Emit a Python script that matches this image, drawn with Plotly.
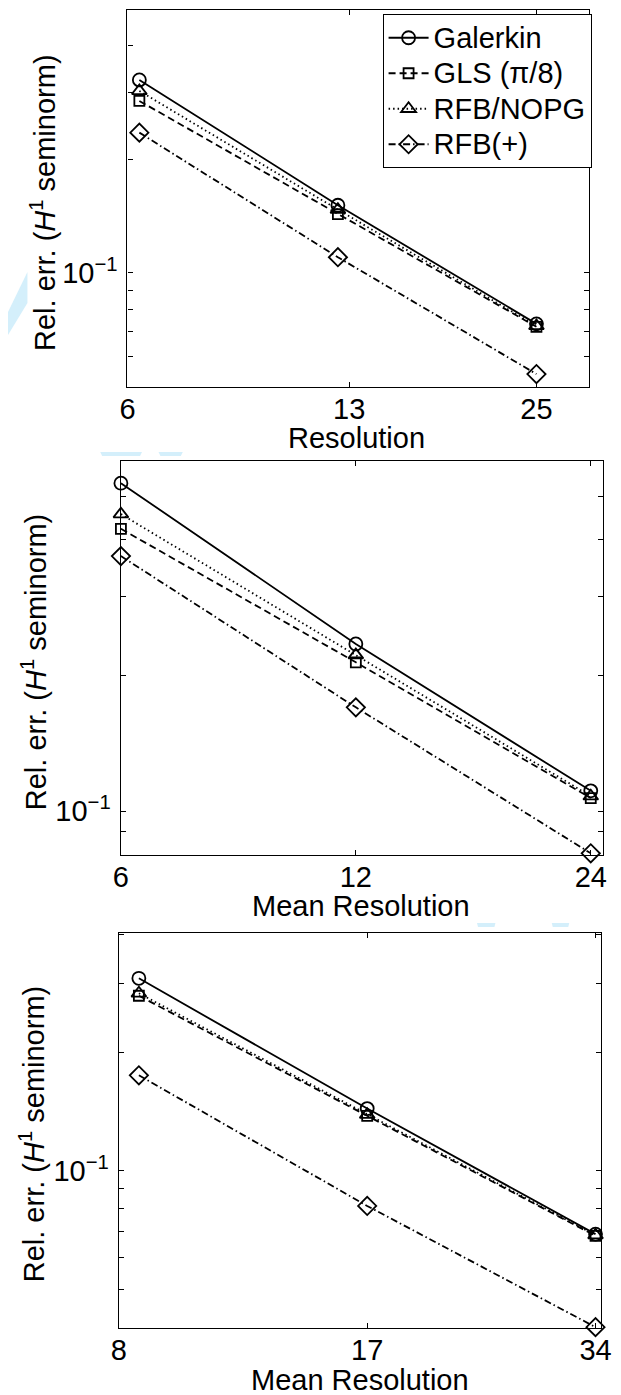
import math
import plotly.graph_objects as go

W, H = 621, 1395

# ---------------- data ----------------
series_names = ["Galerkin", "GLS (\u03c0/8)", "RFB/NOPG", "RFB(+)"]

top_x = [6.25, 12.5, 25]
top_galerkin = [0.324, 0.151, 0.0733]
top_gls = [0.285, 0.143, 0.0720]
top_nopg = [0.303, 0.147, 0.0724]
top_rfbp = [0.235, 0.110, 0.0540]
top_xticks = [6, 13, 25]

mid_x = [6, 12, 24]
mid_galerkin = [0.534, 0.235, 0.111]
mid_gls = [0.423, 0.214, 0.107]
mid_nopg = [0.456, 0.222, 0.108]
mid_rfbp = [0.368, 0.170, 0.0807]
mid_xticks = [6, 12, 24]

bot_x = [8.5, 17, 34]
bot_galerkin = [0.309, 0.144, 0.0690]
bot_gls = [0.279, 0.138, 0.0683]
bot_nopg = [0.283, 0.139, 0.0686]
bot_rfbp = [0.175, 0.0814, 0.0400]
bot_xticks = [8, 17, 34]

y_major = [0.1]
y_major_text = ["10<sup>\u22121</sup>"]
y_minor = [0.04, 0.05, 0.06, 0.07, 0.08, 0.09, 0.2, 0.3, 0.4, 0.5, 0.6]

# ---------------- layout helpers (pixel boxes) ----------------
def px(xp):
    return xp / W

def py(yp):
    return 1 - yp / H

panels = [
    # (x data, series, xticks, xrange, yrange, box(l, r, t, b), xlabel, xlabel pos, ylabel pos)
    (top_x, [top_galerkin, top_gls, top_nopg, top_rfbp], top_xticks, (5.995, 30), (0.0499, 0.496),
     (123, 598, 10, 387), "Resolution", (359, 438), (36, 202)),
    (mid_x, [mid_galerkin, mid_gls, mid_nopg, mid_rfbp], mid_xticks, (5.995, 24.9), (0.0800, 0.598),
     (116, 613, 461, 855), "Mean Resolution", (364, 906), (27, 662)),
    (bot_x, [bot_galerkin, bot_gls, bot_nopg, bot_rfbp], bot_xticks, (7.995, 34.6), (0.0398, 0.403),
     (114, 611, 933, 1328), "Mean Resolution", (362, 1380), (25, 1134)),
]

styles = [
    dict(dash="solid", symbol="circle-open", size=13),
    dict(dash="7px,4px", symbol="square-open", size=10),
    dict(dash="1.5px,3px", symbol="triangle-up-open", size=13),
    dict(dash="7px,3px,1.5px,3px", symbol="diamond-open", size=14),
]

FONT = "Liberation Sans, Arial, Helvetica, sans-serif"
FS = 29

fig = go.Figure()
annotations = []

for i, (xs, ser, xt, xr, yr, box, xlabel, xlpos, ylpos) in enumerate(panels):
    sfx = "" if i == 0 else str(i + 1)
    for name, vals, st in zip(series_names, ser, styles):
        fig.add_trace(go.Scatter(
            x=xs, y=vals, name=f'<span style="font-size:29px">{name}</span>',
            mode="lines+markers",
            line=dict(color="black", width=1.8, dash=st["dash"]),
            marker=dict(symbol=st["symbol"], size=st["size"], color="black",
                        line=dict(color="black", width=1.8)),
            xaxis="x" + sfx, yaxis="y" + sfx,
            showlegend=(i == 0), cliponaxis=False,
        ))
    l, r, t, b = box
    fig.update_layout(**{
        "xaxis" + sfx: dict(
            type="log", range=[math.log10(xr[0]), math.log10(xr[1])],
            domain=[px(l), px(r)], anchor="y" + sfx,
            tickmode="array", tickvals=xt, ticktext=[str(v) for v in xt],
            ticks="inside", ticklen=5, tickwidth=1, tickcolor="black",
            showline=True, linecolor="black", linewidth=1.2, mirror="ticks",
            showgrid=False, zeroline=False, ticklabelstandoff=-4,
            tickfont=dict(size=FS, color="black", family=FONT),
        ),
        "yaxis" + sfx: dict(
            type="log", range=[math.log10(yr[0]), math.log10(yr[1])],
            domain=[py(b), py(t)], anchor="x" + sfx,
            tickmode="array", tickvals=y_major, ticktext=y_major_text,
            ticks="inside", ticklen=5, tickwidth=1, tickcolor="black",
            minor=dict(tickmode="array", tickvals=y_minor, ticks="inside",
                       ticklen=5, tickwidth=1, tickcolor="black", showgrid=False),
            showline=True, linecolor="black", linewidth=1.2, mirror="ticks",
            showgrid=False, zeroline=False, ticklabelstandoff=3,
            tickfont=dict(size=FS, color="black", family=FONT),
        ),
    })
    annotations.append(dict(
        text=xlabel, x=px(xlpos[0]), y=py(xlpos[1]), xref="paper", yref="paper",
        xanchor="center", yanchor="middle", showarrow=False,
        font=dict(size=FS, color="black", family=FONT)))
    annotations.append(dict(
        text="Rel. err. (<i>H</i><sup>1</sup> seminorm)", x=px(ylpos[0]), y=py(ylpos[1]),
        xref="paper", yref="paper", textangle=-90,
        xanchor="center", yanchor="middle", showarrow=False,
        font=dict(size=FS, color="black", family=FONT)))

# faint scanner/watermark artifacts visible in the source picture (decorative)
wm_color = "#d4effb"
wm_polys = [
    [(0, 312), (20, 272), (20, 303), (0, 335)],
    [(95, 452), (138, 452), (136, 456), (97, 456)],
    [(155, 452), (180, 452), (178, 456), (157, 456)],
    [(483, 923), (502, 923), (501, 927), (484, 927)],
    [(560, 923), (578, 923), (577, 927), (561, 927)],
]
shapes = []
for poly in wm_polys:
    path = "M " + " L ".join(f"{px(a):.5f},{py(b):.5f}" for a, b in poly) + " Z"
    shapes.append(dict(type="path", path=path, xref="paper", yref="paper",
                       fillcolor=wm_color, line=dict(width=0), layer="below"))

fig.update_layout(
    width=W, height=H,
    margin=dict(l=0, r=0, t=0, b=0),
    paper_bgcolor="white", plot_bgcolor="rgba(0,0,0,0)",
    font=dict(family=FONT, size=FS, color="black"),
    annotations=annotations,
    shapes=shapes,
    legend=dict(
        x=px(601), y=py(14), xanchor="right", yanchor="top",
        bgcolor="white", bordercolor="black", borderwidth=1,
        font=dict(size=25, color="black", family=FONT),
        tracegroupgap=0, itemwidth=40,
    ),
)

fig.write_html(
    "out.html",
    config={"displayModeBar": False},
    post_script="document.body.style.margin='0';document.body.style.overflow='hidden';",
)
